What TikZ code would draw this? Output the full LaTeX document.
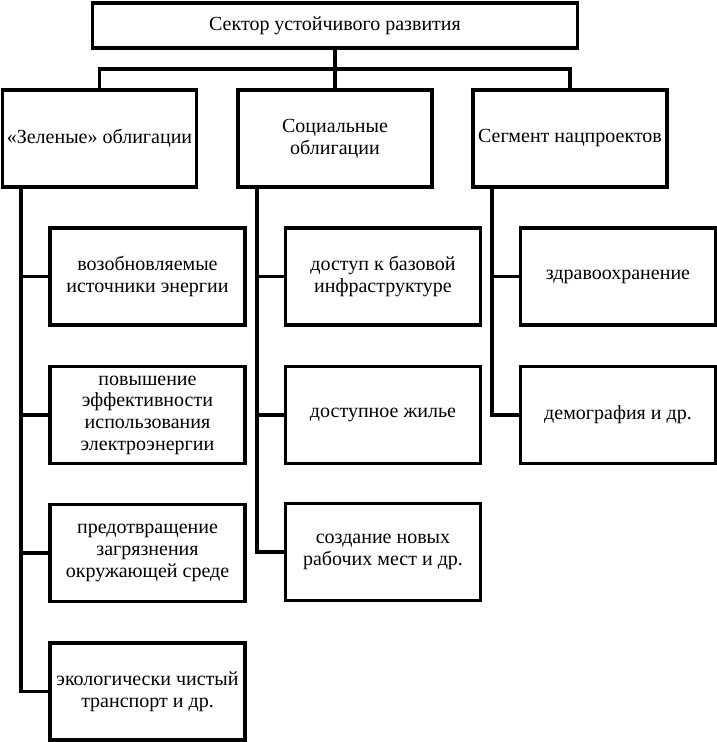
\documentclass[tikz,border=0pt]{standalone}
\usepackage{fontspec}
\setmainfont{Liberation Serif}
\begin{document}
\begin{tikzpicture}[x=1pt,y=1pt,line width=3.4pt,
  box/.style={draw, rectangle, inner sep=0pt, align=center,
    font=\fontsize{20}{21.7}\selectfont},
  topbox/.style={box, minimum width=485, minimum height=45},
  grpbox/.style={box, minimum width=194, minimum height=97},
  itembox/.style={box, minimum width=195, minimum height=97}]
\useasboundingbox (0,0) rectangle (717,-742);
% top
\node[topbox] (top) at (335,-25.5) {Сектор устойчивого развития};
% groups
\node[grpbox] (g1) at (99.5,-138.5) {«Зеленые» облигации};
\node[grpbox] (g2) at (335,-138.5) {Социальные\\облигации};
\node[grpbox] (g3) at (570,-138.5) {Сегмент нацпроектов};
% column 1
\node[itembox] (a1) at (147.5,-276.5) {возобновляемые\\источники энергии};
\node[itembox] (a2) at (147.5,-415) {повышение\\эффективности\\использования\\электроэнергии};
\node[itembox] (a3) at (147.5,-553) {предотвращение\\загрязнения\\окружающей среде};
\node[itembox] (a4) at (147.5,-691.5) {экологически чистый\\транспорт и др.};
% column 2
\node[itembox] (b1) at (383,-276.5) {доступ к базовой\\инфраструктуре};
\node[itembox] (b2) at (383,-415) {доступное жилье};
\node[itembox] (b3) at (383,-552) {создание новых\\рабочих мест и др.};
% column 3
\node[itembox] (c1) at (618,-276.5) {здравоохранение};
\node[itembox] (c2) at (618,-415) {демография и др.};
% connectors top
\coordinate (bus) at (335,-69);
\draw (top.south) -- (g2.north);
\draw (g1.north) |- (bus) -| (g3.north);
% column connectors
\coordinate (v1) at (21,-187);
\coordinate (v2) at (257,-187);
\coordinate (v3) at (492,-187);
\draw (v1) |- (a4.west);
\draw (v1 |- a1.west) -- (a1.west);
\draw (v1 |- a2.west) -- (a2.west);
\draw (v1 |- a3.west) -- (a3.west);
\draw (v2) |- (b3.west);
\draw (v2 |- b1.west) -- (b1.west);
\draw (v2 |- b2.west) -- (b2.west);
\draw (v3) |- (c2.west);
\draw (v3 |- c1.west) -- (c1.west);
\end{tikzpicture}
\end{document}
